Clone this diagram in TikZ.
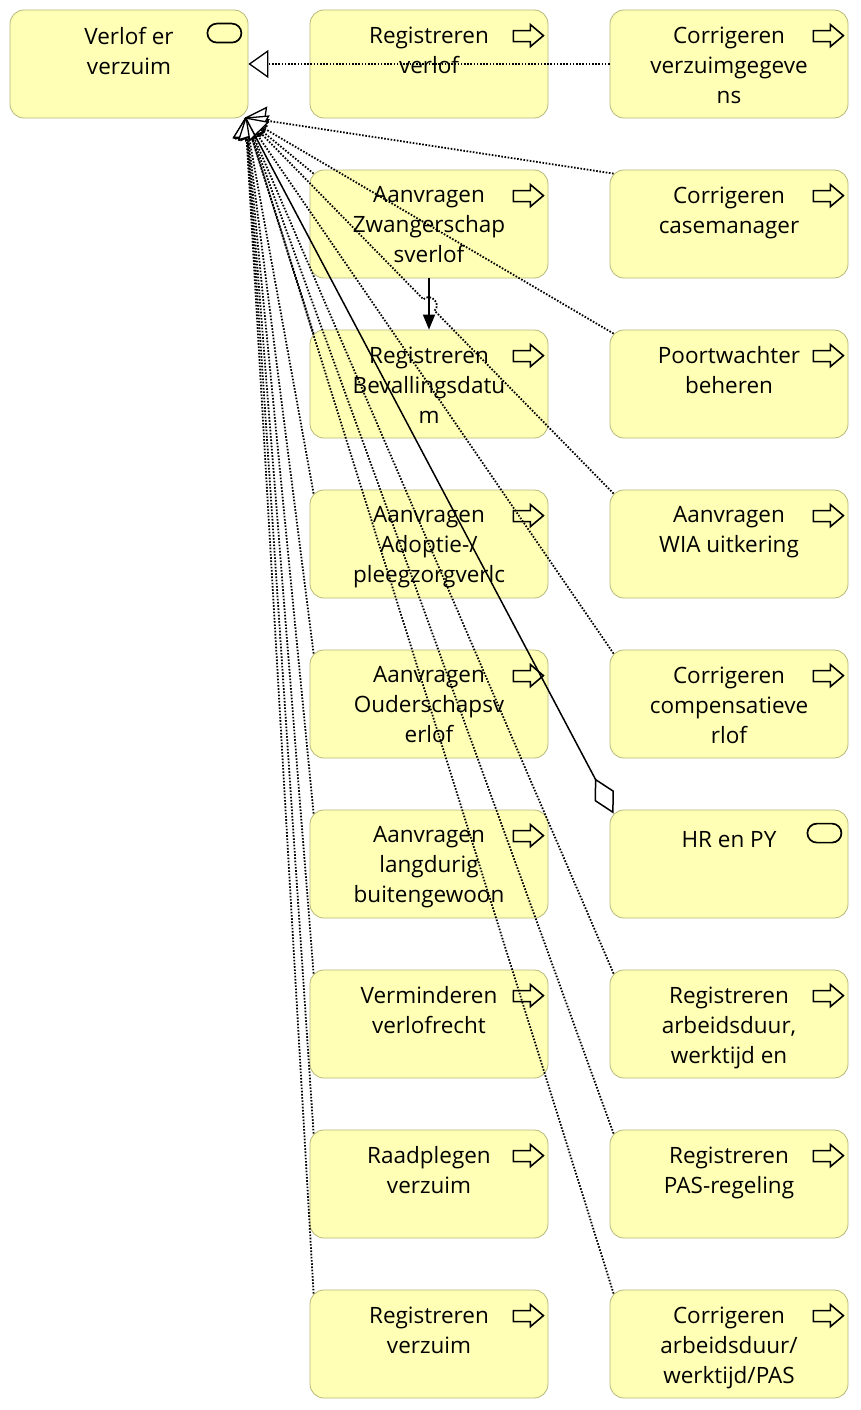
\documentclass[tikz,border=0pt]{standalone}
\usepackage{fontspec}
\setmainfont{Open Sans}
\usetikzlibrary{arrows.meta}
\definecolor{boxgeel}{RGB}{255,255,181}
\definecolor{boxrand}{RGB}{184,184,122}
% icoon rechtsboven in een blok
\newcommand{\dienst}[1]{\draw[shift={(#1.north east)},line width=1.6pt,line join=miter] (-35,21) -- (-18,21) -- (-18,15) -- (-5,26) -- (-18,37) -- (-18,32) -- (-35,32) -- cycle;}
\newcommand{\rol}[1]{\draw[shift={(#1.north east)},line width=1.7pt,rounded corners=9.5pt] (-41,14) rectangle (-7,33);}

\begin{document}
\begin{tikzpicture}
	[x=1pt,y=-1pt,
	blok/.style={rectangle,rounded corners=14pt,draw=boxrand,fill=boxgeel,line width=0.8pt,minimum width=238pt,minimum height=108pt,inner sep=0pt},
	tekst/.style={anchor=north,yshift=-17pt,inner sep=0pt,align=center,font=\fontsize{22.5}{30}\selectfont,execute at begin node=\strut},
	realisatie/.style={line width=1.8pt,dash pattern=on 1.6pt off 1.6pt,-{Triangle[fill=white,length=20pt,width=28pt,line width=1.3pt]}},
	aggregatie/.style={line width=1.5pt,{Diamond[fill=white,length=40pt,width=22pt,line width=1.5pt]}-},
	trigger/.style={line width=1.6pt,-{Triangle[length=15pt,width=12pt]}}]
	\fill[white] (0,0) rectangle (860,1410);
	\useasboundingbox (0,0) rectangle (860,1410);

	\node[blok,label={[tekst]north:{Verlof er\\verzuim}}] (verlof) at (129,64) {};

	\node[blok,label={[tekst]north:{Registreren\\verlof}}] (rv) at (429,64) {};
	\node[blok,label={[tekst]north:{Aanvragen\\Zwangerschap\\sverlof}}] (zw) at (429,224) {};
	\node[blok,label={[tekst]north:{Registreren\\Bevallingsdatu\\m}}] (bev) at (429,384) {};
	\node[blok,label={[tekst]north:{Aanvragen\\Adoptie-/\\pleegzorgverlc}}] (adop) at (429,544) {};
	\node[blok,label={[tekst]north:{Aanvragen\\Ouderschapsv\\erlof}}] (ouder) at (429,704) {};
	\node[blok,label={[tekst]north:{Aanvragen\\langdurig\\buitengewoon}}] (lang) at (429,864) {};
	\node[blok,label={[tekst]north:{Verminderen\\verlofrecht}}] (verm) at (429,1024) {};
	\node[blok,label={[tekst]north:{Raadplegen\\verzuim}}] (raad) at (429,1184) {};
	\node[blok,label={[tekst]north:{Registreren\\verzuim}}] (regv) at (429,1344) {};

	\node[blok,label={[tekst]north:{Corrigeren\\verzuimgegeve\\ns}}] (cvg) at (729,64) {};
	\node[blok,label={[tekst]north:{Corrigeren\\casemanager}}] (ccm) at (729,224) {};
	\node[blok,label={[tekst]north:{Poortwachter\\beheren}}] (poort) at (729,384) {};
	\node[blok,label={[tekst]north:{Aanvragen\\WIA uitkering}}] (wia) at (729,544) {};
	\node[blok,label={[tekst]north:{Corrigeren\\compensatieve\\rlof}}] (comp) at (729,704) {};
	\node[blok,label={[tekst]north:{HR en PY}}] (hrpy) at (729,864) {};
	\node[blok,label={[tekst]north:{Registreren\\arbeidsduur,\\werktijd en}}] (arb) at (729,1024) {};
	\node[blok,label={[tekst]north:{Registreren\\PAS-regeling}}] (pas) at (729,1184) {};
	\node[blok,label={[tekst]north:{Corrigeren\\arbeidsduur/\\werktijd/PAS}}] (carb) at (729,1344) {};

	\rol{verlof}
	\rol{hrpy}
	\foreach \n in {rv,zw,bev,adop,ouder,lang,verm,raad,regv,cvg,ccm,poort,wia,comp,arb,pas,carb}
	{\dienst{\n}}

	% alle realisaties komen samen bij de hoek van het verlof-blok
	\coordinate (doel) at ([shift={(-3,-1)}]verlof.south east);
	\coordinate (sprong1) at (434.6,310.7);
	\coordinate (sprong2) at (423.4,299.3);

	\foreach \van in
	{zw,bev,adop,ouder,lang,verm,raad,regv,ccm,poort,comp,arb,pas,carb}
	\draw[realisatie] ([shift={(4,4)}]\van.north west) -- (doel);
	\draw[realisatie] (cvg.west) -- (verlof.east);
	\draw[realisatie] ([shift={(4,4)}]wia.north west) -- (sprong1) .. controls (441.7,303.7) and (430.5,292.3) .. (sprong2) -- (doel);
	\draw[aggregatie] ([shift={(4,4)}]hrpy.north west) -- (doel);
	\draw[trigger] (zw.south) -- (bev.north);
\end{tikzpicture}
\end{document}
